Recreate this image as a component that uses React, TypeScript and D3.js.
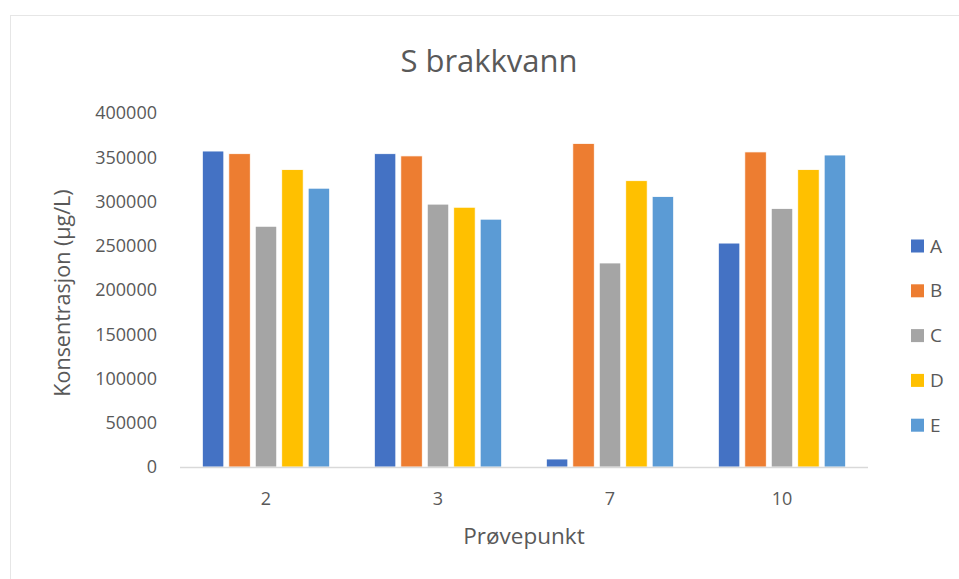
import React from 'react';
import { scaleBand, scaleLinear, range } from 'd3';

const width = 959;
const height = 579;
const margin = { top: 113, right: 91, bottom: 112, left: 180 };

const categories = ['2', '3', '7', '10'];
const series = ['A', 'B', 'C', 'D', 'E'];
const colors = ['#4472C4', '#ED7D31', '#A5A5A5', '#FFC000', '#5B9BD5'];

// one array per series, in category order
const valuesA = [357000, 354000, 9000, 253000];
const valuesB = [354000, 351500, 365500, 356000];
const valuesC = [272000, 297000, 230500, 292000];
const valuesD = [336000, 293500, 323500, 336000];
const valuesE = [315000, 280000, 305500, 352500];
const seriesValues = [valuesA, valuesB, valuesC, valuesD, valuesE];

const yTicks = range(0, 400001, 50000);

const font = '"Open Sans", "Liberation Sans", sans-serif';
const textColor = '#595959';

export default function App() {
  const innerWidth = width - margin.left - margin.right;
  const innerHeight = height - margin.top - margin.bottom;

  const x0 = scaleBand<string>()
    .domain(categories)
    .range([0, innerWidth])
    .paddingInner(0.26)
    .paddingOuter(0.13);

  const x1 = scaleBand<string>()
    .domain(series)
    .range([0, x0.bandwidth()])
    .paddingInner(0.19);

  const y = scaleLinear().domain([0, 400000]).range([innerHeight, 0]);

  return (
    <svg width={width} height={height} style={{ position: 'absolute', left: 0, top: 0 }}>
      <rect x={0} y={0} width={width} height={height} fill="#fff" />
      <rect x={10.5} y={15.5} width={width} height={height} fill="#fff" stroke="#e6e6e6" />
      <text x={489} y={72} textAnchor="middle" fontFamily={font} fontSize={31} fill={textColor}>
        S brakkvann
      </text>
      <g transform={`translate(${margin.left},${margin.top})`}>
        {yTicks.map(t => (
          <text key={t} x={-23} y={y(t)} dy="0.35em" textAnchor="end" fontFamily={font} fontSize={18} fill={textColor}>
            {t}
          </text>
        ))}
        {categories.map((c, ci) => (
          <g key={c} transform={`translate(${x0(c)},0)`}>
            {series.map((s, si) => {
              const v = seriesValues[si][ci];
              return (
                <rect
                  key={s}
                  x={x1(s)}
                  y={y(v)}
                  width={x1.bandwidth()}
                  height={innerHeight - y(v)}
                  fill={colors[si]}
                  stroke="#fff"
                  strokeWidth={0.75}
                />
              );
            })}
            <text x={x0.bandwidth() / 2} y={innerHeight + 38} textAnchor="middle" fontFamily={font} fontSize={18} fill={textColor}>
              {c}
            </text>
          </g>
        ))}
        <line x1={0} x2={innerWidth} y1={innerHeight + 0.5} y2={innerHeight + 0.5} stroke="#d9d9d9" strokeWidth={1.5} />
      </g>
      <text
        transform={`translate(70,293) rotate(-90)`}
        textAnchor="middle"
        fontFamily={font}
        fontSize={21.5}
        fill={textColor}
      >
        Konsentrasjon (µg/L)
      </text>
      <text x={524} y={544} textAnchor="middle" fontFamily={font} fontSize={22.5} fill={textColor}>
        Prøvepunkt
      </text>
      <g transform="translate(911,246)">
        {series.map((s, i) => (
          <g key={s} transform={`translate(0,${i * 44.8})`}>
            <rect x={0} y={-6.5} width={13} height={13} fill={colors[i]} />
            <text x={19} y={0} dy="0.35em" fontFamily={font} fontSize={19} fill={textColor}>
              {s}
            </text>
          </g>
        ))}
      </g>
    </svg>
  );
}
